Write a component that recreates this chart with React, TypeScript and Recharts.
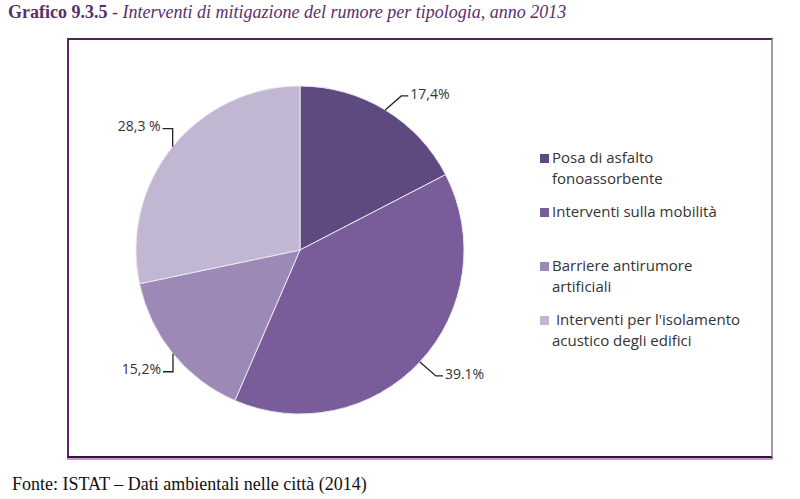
import { PieChart, Pie, Cell, Legend } from 'recharts';

const categories = [
  'Posa di asfalto fonoassorbente',
  'Interventi sulla mobilità',
  'Barriere antirumore artificiali',
  ' Interventi per l\'isolamento acustico degli edifici',
];
const values = [17.4, 39.1, 15.2, 28.3];
const valueLabels = ['17,4%', '39.1%', '15,2%', '28,3 %'];
const colors = ['#5e4a7e', '#785d9a', '#9c89b6', '#c2b7d3'];

const data = categories.map((name, i) => ({ name, value: values[i], label: valueLabels[i] }));

const RADIAN = Math.PI / 180;

function renderLabel(props: any) {
  const { cx, cy, midAngle, outerRadius, index } = props;
  const cos = Math.cos(-midAngle * RADIAN);
  const sin = Math.sin(-midAngle * RADIAN);
  const ex = cx + outerRadius * cos;
  const ey = cy + outerRadius * sin;
  const dir = sin < 0 ? -1 : 1;
  let pts: string;
  let tx: number;
  let ty: number;
  let anchor: 'start' | 'end';
  if (cos >= 0) {
    const bx = ex + 16;
    const by = ey + 14 * dir;
    pts = `${ex},${ey} ${bx},${by} ${bx + 7},${by}`;
    tx = bx + 9;
    ty = by - 1;
    anchor = 'start';
  } else {
    const by = ey + 18 * dir;
    pts = `${ex},${ey} ${ex},${by} ${ex - 10},${by}`;
    tx = ex - 12;
    ty = by - 2;
    anchor = 'end';
  }
  return (
    <g key={`lbl-${index}`}>
      <polyline points={pts} fill="none" stroke="#222" strokeWidth={1.3} />
      <text x={tx} y={ty} dy={4} textAnchor={anchor} fontSize={14} fill="#333" fontFamily="'Open Sans', sans-serif">
        {data[index].label}
      </text>
    </g>
  );
}

// legend drawn from the data arrays so the order follows the slices
function LegendContent() {
  return (
    <div style={{ fontFamily: "'Open Sans', sans-serif", fontSize: 15, color: '#333' }}>
      {data.map((d, i) => (
        <div key={d.name} style={{ height: 54, display: 'flex', alignItems: 'flex-start' }}>
          <span
            style={{
              width: 9,
              height: 9,
              background: colors[i],
              marginTop: 7,
              marginRight: 3,
              flex: '0 0 auto',
            }}
          />
          <span style={{ width: 195, lineHeight: '21px', whiteSpace: 'pre-wrap' }}>{d.name}</span>
        </div>
      ))}
    </div>
  );
}

export default function App() {
  return (
    <div style={{ position: 'absolute', left: 0, top: 0, width: 800, height: 499, background: '#fff', overflow: 'hidden' }}>
      <div
        style={{
          position: 'absolute',
          left: 8,
          top: 2,
          fontFamily: "'Liberation Serif', serif",
          fontSize: 18,
          color: '#5a2f6b',
          whiteSpace: 'nowrap',
        }}
      >
        <b>Grafico 9.3.5</b>
        <i> - Interventi di mitigazione del rumore per tipologia, anno 2013</i>
      </div>
      <div
        style={{
          position: 'absolute',
          left: 67,
          top: 38,
          width: 702,
          height: 416,
          borderLeft: '2px solid #5b2a60',
          borderTop: '2px solid #4e2450',
          borderRight: '2px solid #a596ad',
          borderBottom: '2px solid #2a1a2c',
          boxShadow: '0 2px 0 #cf92d8',
        }}
      />
      <div style={{ position: 'absolute', left: 0, top: 0 }}>
        <PieChart width={800} height={499}>
          <Pie
            data={data}
            dataKey="value"
            nameKey="name"
            cx={295}
            cy={245}
            outerRadius={164}
            startAngle={90}
            endAngle={-270}
            stroke="#ebe7f0"
            strokeWidth={1}
            label={renderLabel}
            labelLine={false}
            isAnimationActive={false}
          >
            {data.map((d, i) => (
              <Cell key={d.name} fill={colors[i]} />
            ))}
          </Pie>
          <Legend
            layout="vertical"
            content={<LegendContent />}
            wrapperStyle={{ position: 'absolute', left: 540, top: 147, width: 230 }}
          />
        </PieChart>
      </div>
      <div
        style={{
          position: 'absolute',
          left: 12,
          top: 474,
          fontFamily: "'Liberation Serif', serif",
          fontSize: 18,
          color: '#111',
          whiteSpace: 'nowrap',
        }}
      >
        Fonte: ISTAT – Dati ambientali nelle città (2014)
      </div>
    </div>
  );
}
